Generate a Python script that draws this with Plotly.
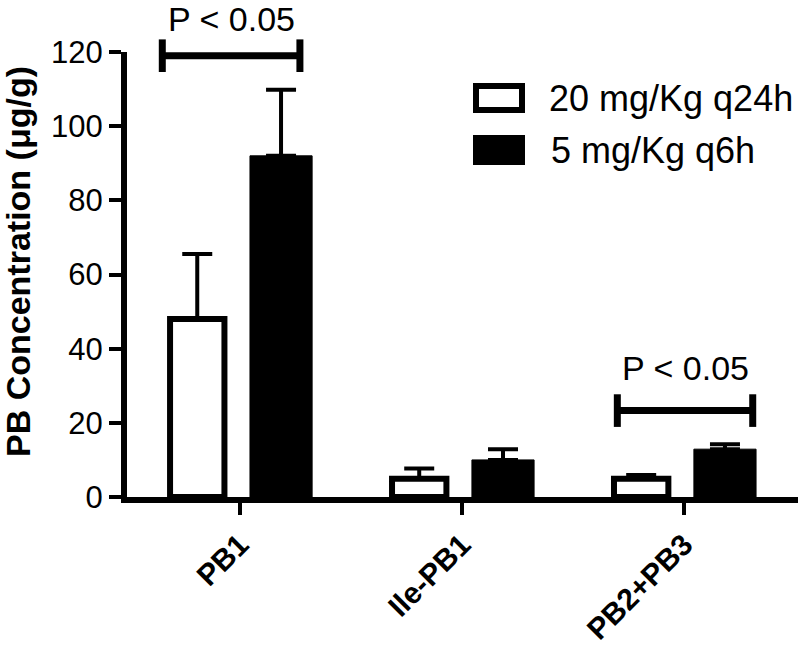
import plotly.graph_objects as go

# ---- data ----
categories = ["PB1", "Ile-PB1", "PB2+PB3"]
series_names = ["20 mg/Kg q24h", "5 mg/Kg q6h"]
q24h_mean = [48.0, 4.9, 4.9]
q24h_sem = [17.5, 2.8, 1.0]
q6h_mean = [92.0, 10.0, 12.9]
q6h_sem = [17.8, 2.9, 1.3]
y_ticks = [0, 20, 40, 60, 80, 100, 120]
sig_label = "P < 0.05"
sig_category = [0, 2]
sig_bar_value = [119.0, 23.3]
sig_text_value = [128.9, 34.8]

FONT = "Liberation Sans, Arial, Helvetica, sans-serif"
Y_MAX = 120.0
W, H = 800, 651
ML, MR, MT, MB = 127, 2, 52, 154

x_idx = list(range(len(categories)))

fig = go.Figure()
fig.add_trace(go.Bar(
    x=x_idx, y=q24h_mean, name=series_names[0],
    width=0.245, offset=-0.315,
    marker=dict(color="white", line=dict(color="black", width=6)),
    error_y=dict(type="data", array=q24h_sem, arrayminus=[0] * 3,
                 color="black", thickness=4, width=15),
    showlegend=False,
))
fig.add_trace(go.Bar(
    x=x_idx, y=q6h_mean, name=series_names[1],
    width=0.28, offset=0.045,
    marker=dict(color="black", line=dict(color="black", width=1)),
    error_y=dict(type="data", array=q6h_sem, arrayminus=[0] * 3,
                 color="black", thickness=4, width=15),
    showlegend=False,
))

shapes = []
annotations = []


def px(xp):
    return (xp - ML) / (W - ML - MR)


def py(yp):
    return (H - MB - yp) / (H - MT - MB)


# significance brackets (x in data units, y in paper fraction of the value axis)
brk_span = {0: (-0.35, 0.27), 2: (-0.30, 0.31)}
for cat, yv, ty in zip(sig_category, sig_bar_value, sig_text_value):
    x0, x1 = cat + brk_span[cat][0], cat + brk_span[cat][1]
    yp = yv / Y_MAX
    dh = 4.4 / Y_MAX
    line = dict(color="black", width=7)
    shapes.append(dict(type="line", xref="x", yref="paper", x0=x0, x1=x1, y0=yp, y1=yp, line=line))
    shapes.append(dict(type="line", xref="x", yref="paper", x0=x0, x1=x0, y0=yp - dh, y1=yp + dh, line=line))
    shapes.append(dict(type="line", xref="x", yref="paper", x0=x1, x1=x1, y0=yp - dh, y1=yp + dh, line=line))
    annotations.append(dict(x=(x0 + x1) / 2, y=ty / Y_MAX, xref="x", yref="paper", text=sig_label,
                            showarrow=False, xanchor="center", yanchor="middle",
                            font=dict(family=FONT, size=34, color="black")))

# manual legend (pixel positions converted to paper)
shapes.append(dict(type="rect", xref="paper", yref="paper", x0=px(476), x1=px(522), y0=py(86), y1=py(110),
                   line=dict(color="black", width=6), fillcolor="white"))
shapes.append(dict(type="rect", xref="paper", yref="paper", x0=px(474), x1=px(524), y0=py(136), y1=py(164),
                   line=dict(color="black", width=2), fillcolor="black"))
annotations.append(dict(x=px(547), y=py(98), xref="paper", yref="paper", text=series_names[0],
                        showarrow=False, xanchor="left", yanchor="middle",
                        font=dict(family=FONT, size=36, color="black")))
annotations.append(dict(x=px(549), y=py(150), xref="paper", yref="paper", text=series_names[1],
                        showarrow=False, xanchor="left", yanchor="middle",
                        font=dict(family=FONT, size=36, color="black")))

# y-axis title
annotations.append(dict(x=px(18), y=py(262), xref="paper", yref="paper",
                        text="PB Concentration (\u03bcg/g)", textangle=-90,
                        showarrow=False, xanchor="center", yanchor="middle",
                        font=dict(family=FONT, size=34, color="black", weight="bold")))

fig.update_layout(
    width=W, height=H,
    margin=dict(l=ML, r=MR, t=MT, b=MB, autoexpand=False),
    paper_bgcolor="white", plot_bgcolor="white",
    barmode="group",
    shapes=shapes, annotations=annotations,
    xaxis=dict(
        range=[-0.509, 2.514], tickmode="array", tickvals=x_idx, ticktext=categories,
        tickangle=-45, ticks="outside", ticklen=12, tickwidth=4, tickcolor="black",
        showline=True, linecolor="black", linewidth=6, showgrid=False, zeroline=False,
        automargin=False,
        tickfont=dict(family=FONT, size=30, color="black", weight="bold"),
    ),
    yaxis=dict(
        range=[0, Y_MAX], tickmode="array", tickvals=y_ticks,
        ticks="outside", ticklen=12, tickwidth=4, tickcolor="black",
        showline=True, linecolor="black", linewidth=6, showgrid=False, zeroline=False,
        automargin=False,
        tickfont=dict(family=FONT, size=31, color="black"),
    ),
)

fig.write_html("out.html", config={"displayModeBar": False},
               post_script="document.body.style.margin='0';")
